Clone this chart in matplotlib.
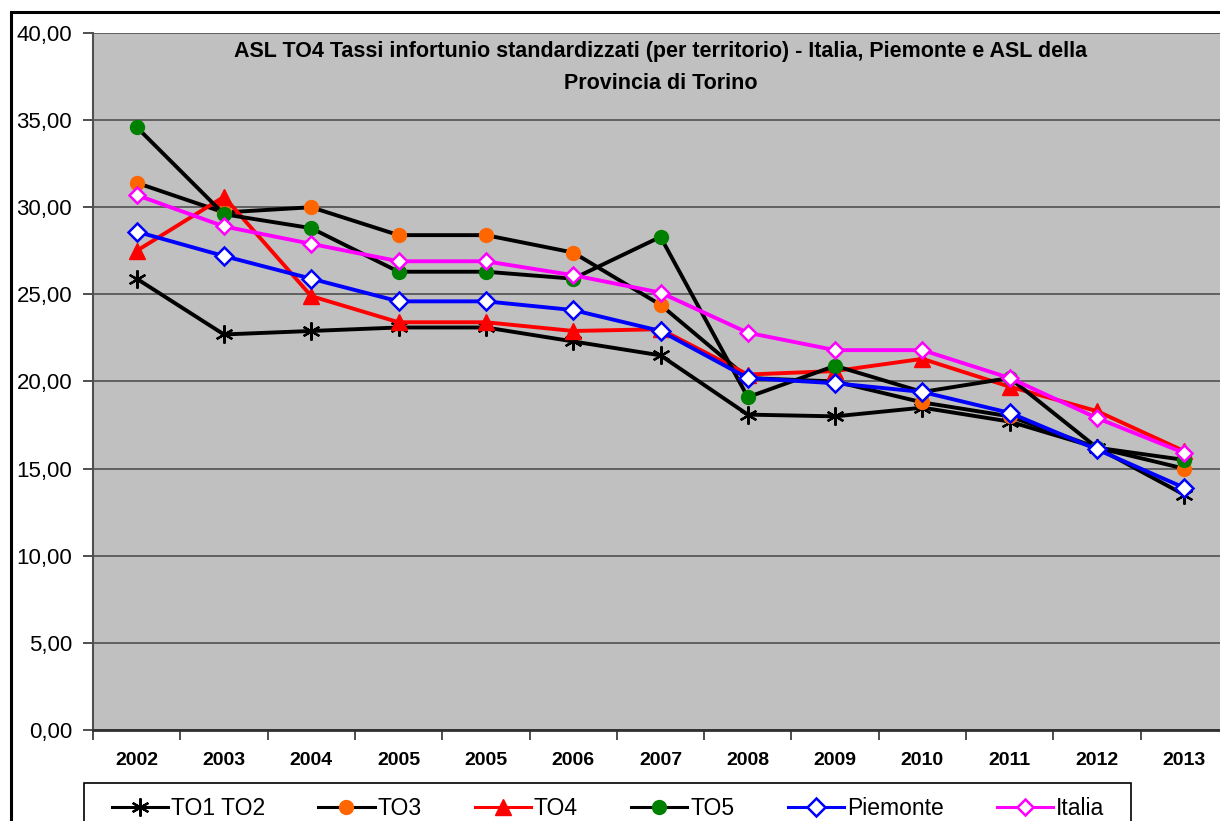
import matplotlib
matplotlib.use("Agg")
import matplotlib.pyplot as plt
from matplotlib.patches import Rectangle
from matplotlib.ticker import FuncFormatter, MultipleLocator

plt.rcParams["font.family"] = ["Liberation Sans", "DejaVu Sans"]

years = ["2002", "2003", "2004", "2005", "2005", "2006", "2007",
         "2008", "2009", "2010", "2011", "2012", "2013"]

to1_to2 = [25.9, 22.7, 22.9, 23.1, 23.1, 22.3, 21.5, 18.1, 18.0, 18.5, 17.7, 16.2, 13.5]
to3 = [31.4, 29.7, 30.0, 28.4, 28.4, 27.4, 24.4, 20.2, 20.0, 18.8, 18.0, 16.2, 15.0]
to4 = [27.5, 30.6, 24.9, 23.4, 23.4, 22.9, 23.0, 20.4, 20.6, 21.3, 19.7, 18.3, 16.0]
to5 = [34.6, 29.6, 28.8, 26.3, 26.3, 25.9, 28.3, 19.1, 20.9, 19.4, 20.2, 16.2, 15.5]
piemonte = [28.6, 27.2, 25.9, 24.6, 24.6, 24.1, 22.9, 20.2, 19.9, 19.4, 18.2, 16.1, 13.9]
italia = [30.7, 28.9, 27.9, 26.9, 26.9, 26.1, 25.1, 22.8, 21.8, 21.8, 20.2, 17.9, 15.9]

title = ("ASL TO4 Tassi infortunio standardizzati (per territorio) - Italia, Piemonte e ASL della\n"
         "Provincia di Torino")

W, H = 1220, 821
fig = plt.figure(figsize=(W / 100, H / 100), dpi=100)
ax = fig.add_axes([93 / W, (H - 730) / H, (1228 - 93) / W, (730 - 33) / H])
ax.set_facecolor("#C0C0C0")

x = range(len(years))
lw = 2.8
ax.plot(x, to1_to2, color="black", lw=lw, marker=(6, 2, 0), ms=13, mec="black",
        mew=1.6, label="TO1 TO2")
ax.plot(x, to3, color="black", lw=lw, marker="o", ms=10, mfc="#FF6600", mec="#FF6600",
        label="TO3")
ax.plot(x, to4, color="#FF0000", lw=lw, marker="^", ms=11, mfc="#FF0000", mec="#FF0000",
        label="TO4")
ax.plot(x, to5, color="black", lw=lw, marker="o", ms=10, mfc="#008000", mec="#008000",
        label="TO5")
ax.plot(x, piemonte, color="#0000FF", lw=lw, marker="D", ms=9.5, mfc="white", mec="#0000FF",
        mew=1.8, label="Piemonte")
ax.plot(x, italia, color="#FF00FF", lw=lw, marker="D", ms=8.5, mfc="white", mec="#FF00FF",
        mew=1.8, label="Italia")

ax.set_xlim(-0.5, len(years) - 0.5)
ax.set_ylim(0, 40)
ax.yaxis.set_major_locator(MultipleLocator(5))
ax.yaxis.set_major_formatter(FuncFormatter(lambda v, p: f"{v:.2f}".replace(".", ",")))
ax.grid(axis="y", color="#505050", lw=1.2)
ax.set_axisbelow(True)

ax.set_xticks(list(x))
ax.set_xticklabels(years, fontsize=14, fontweight="bold")
ax.set_xticks([i - 0.5 for i in range(len(years) + 1)], minor=True)
ax.tick_params(axis="x", which="major", length=0, pad=15.5)
ax.tick_params(axis="x", which="minor", length=7, width=1.2, color="#303030")
ax.tick_params(axis="y", length=7, width=1.2, color="#303030", labelsize=16, pad=8)

for s in ["top", "right"]:
    ax.spines[s].set_visible(False)
ax.spines["left"].set_color("#505050")
ax.spines["left"].set_linewidth(1.5)
ax.spines["bottom"].set_color("#303030")
ax.spines["bottom"].set_linewidth(2)

ax.text(0.5, 0.989, title, transform=ax.transAxes, ha="center", va="top",
        fontsize=15.5, fontweight="bold", linespacing=1.7)

# legend without its own frame, the box is drawn separately
leg = fig.legend(loc="upper left", bbox_to_anchor=(112 / W, 1 - 797 / H), ncol=6,
                 fontsize=16.5, frameon=False, handlelength=2.45,
                 handletextpad=0.13, columnspacing=2.32, borderpad=0,
                 borderaxespad=0)
for h in leg.legend_handles:
    h.set_linewidth(2.2)

fig.patches.append(Rectangle((84 / W, -0.1), (1131 - 84) / W, 0.1 + 1 - 783 / H,
                             transform=fig.transFigure, fill=False,
                             edgecolor="black", lw=1.2))
fig.patches.append(Rectangle((11 / W, -0.1), 1.2, 1.1 - 12 / H, transform=fig.transFigure,
                             fill=False, edgecolor="black", lw=2.2))

fig.savefig("out.png", dpi=100)
